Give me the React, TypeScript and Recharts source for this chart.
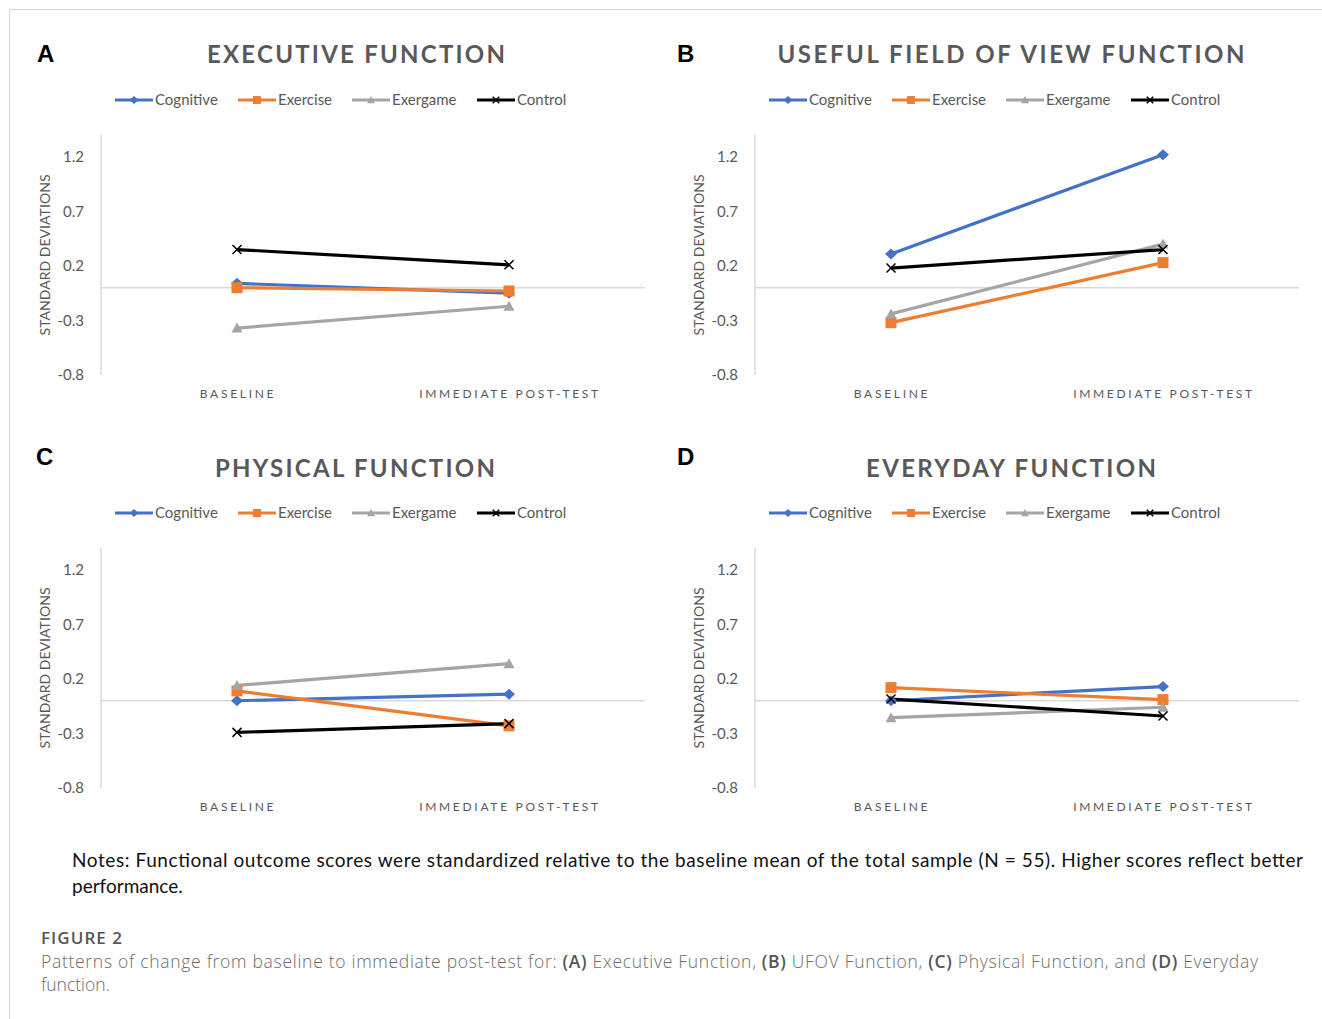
import React from 'react';
import { LineChart, Line, XAxis, YAxis, ReferenceLine } from 'recharts';

// ---------- data ----------
const categories = ['BASELINE', 'IMMEDIATE POST-TEST'];
const seriesNames = ['Cognitive', 'Exercise', 'Exergame', 'Control'];
const yTicks = [-0.8, -0.3, 0.2, 0.7, 1.2];
const yDomain: [number, number] = [-0.8, 1.4];

const execCognitive = [0.04, -0.05];
const execExercise = [0.0, -0.03];
const execExergame = [-0.37, -0.17];
const execControl = [0.35, 0.21];

const ufovCognitive = [0.31, 1.22];
const ufovExercise = [-0.32, 0.23];
const ufovExergame = [-0.24, 0.4];
const ufovControl = [0.18, 0.35];

const physCognitive = [0.0, 0.06];
const physExercise = [0.09, -0.23];
const physExergame = [0.14, 0.34];
const physControl = [-0.29, -0.21];

const everyCognitive = [0.0, 0.13];
const everyExercise = [0.12, 0.01];
const everyExergame = [-0.155, -0.06];
const everyControl = [0.015, -0.14];

const panelLetters = ['A', 'B', 'C', 'D'];
const panelTitles = [
  'EXECUTIVE FUNCTION',
  'USEFUL FIELD OF VIEW FUNCTION',
  'PHYSICAL FUNCTION',
  'EVERYDAY FUNCTION',
];

function buildRows(c: number[], e: number[], g: number[], k: number[]) {
  return categories.map((cat, i) => ({
    cat,
    Cognitive: c[i],
    Exercise: e[i],
    Exergame: g[i],
    Control: k[i],
  }));
}

const panelRows = [
  buildRows(execCognitive, execExercise, execExergame, execControl),
  buildRows(ufovCognitive, ufovExercise, ufovExergame, ufovControl),
  buildRows(physCognitive, physExercise, physExergame, physControl),
  buildRows(everyCognitive, everyExercise, everyExergame, everyControl),
];

// ---------- styles ----------
const COLORS: Record<string, string> = {
  Cognitive: '#4472C4',
  Exercise: '#ED7D31',
  Exergame: '#A5A5A5',
  Control: '#000000',
};
const TEXT_GRAY = '#595959';
const AXIS_GRAY = '#d9d9d9';
const CHART_FONT = 'Lato, "Open Sans", sans-serif';

const panelLayout = [
  { left: 0, top: 0, letterX: 37, letterY: 62, titleCx: 356, titleW: 298, titleY: 63 },
  { left: 654, top: 0, letterX: 677, letterY: 62, titleCx: 1011, titleW: 467, titleY: 63 },
  { left: 0, top: 413, letterX: 36, letterY: 465, titleCx: 355, titleW: 280, titleY: 477 },
  { left: 654, top: 413, letterX: 677, letterY: 465, titleCx: 1011, titleW: 290, titleY: 477 },
];
const legendOffsets = [115, 238, 352, 477];

function marker(name: string, cx: number, cy: number, s: number, key?: string) {
  if (name === 'Cognitive') {
    return (
      <path
        key={key}
        d={`M${cx},${cy - 5.5 * s} L${cx + 6 * s},${cy} L${cx},${cy + 5.5 * s} L${cx - 6 * s},${cy} Z`}
        fill={COLORS.Cognitive}
      />
    );
  }
  if (name === 'Exercise') {
    return (
      <rect key={key} x={cx - 5.5 * s} y={cy - 5.5 * s} width={11 * s} height={11 * s} fill={COLORS.Exercise} />
    );
  }
  if (name === 'Exergame') {
    return (
      <path
        key={key}
        d={`M${cx},${cy - 5.5 * s} L${cx + 5.5 * s},${cy + 4.5 * s} L${cx - 5.5 * s},${cy + 4.5 * s} Z`}
        fill={COLORS.Exergame}
      />
    );
  }
  const r = 4.5 * s;
  return (
    <path
      key={key}
      d={`M${cx - r},${cy - r} L${cx + r},${cy + r} M${cx + r},${cy - r} L${cx - r},${cy + r}`}
      stroke="#000"
      strokeWidth={1.5}
      fill="none"
    />
  );
}

const renderXTick = (props: any) => {
  const { x, y, payload } = props;
  return (
    <text
      x={x + 1}
      y={y + 15}
      textAnchor="middle"
      fontFamily={CHART_FONT}
      fontSize={12}
      letterSpacing={2.7}
      fill={TEXT_GRAY}
    >
      {payload.value}
    </text>
  );
};

function Panel({ idx }: { idx: number }) {
  const lay = panelLayout[idx];
  return (
    <div style={{ position: 'absolute', left: lay.left, top: lay.top, width: 660, height: 420 }}>
      <LineChart
        width={660}
        height={420}
        data={panelRows[idx]}
        margin={{ top: 135, right: 15, bottom: 15, left: 41 }}
      >
        <XAxis
          dataKey="cat"
          scale="band"
          axisLine={false}
          tickLine={false}
          height={30}
          interval={0}
          tick={renderXTick}
        />
        <YAxis
          type="number"
          domain={yDomain}
          ticks={yTicks}
          width={60}
          allowDataOverflow
          axisLine={{ stroke: AXIS_GRAY, strokeWidth: 1.5 }}
          tickLine={false}
          tickMargin={11}
          tick={{ fontSize: 15, fill: TEXT_GRAY, fontFamily: CHART_FONT }}
          tickFormatter={(v: number) => v.toFixed(1)}
        />
        <ReferenceLine y={0} stroke={AXIS_GRAY} strokeWidth={1.5} />
        {seriesNames.map((n) => (
          <Line
            key={n}
            dataKey={n}
            type="linear"
            stroke={COLORS[n]}
            strokeWidth={3.2}
            isAnimationActive={false}
            activeDot={false}
            dot={(p: any) => marker(n, p.cx, p.cy, 1, `${n}-${p.index}`)}
          />
        ))}
      </LineChart>
    </div>
  );
}

function PanelText({ idx }: { idx: number }) {
  const lay = panelLayout[idx];
  const legendY = lay.top + 100;
  const yLabelX = lay.left + 50;
  const yLabelY = lay.top + 255;
  return (
    <g>
      <text
        x={lay.letterX}
        y={lay.letterY}
        fontFamily='"Liberation Sans", Arial, sans-serif'
        fontWeight={700}
        fontSize={24}
        fill="#000"
      >
        {panelLetters[idx]}
      </text>
      <text
        x={lay.titleCx - lay.titleW / 2}
        y={lay.titleY}
        fontFamily={CHART_FONT}
        fontWeight={700}
        fontSize={24}
        fill={TEXT_GRAY}
        textLength={lay.titleW}
        lengthAdjust="spacing"
      >
        {panelTitles[idx]}
      </text>
      {seriesNames.map((n, i) => {
        const x0 = lay.left + legendOffsets[i];
        return (
          <g key={n}>
            <line x1={x0} x2={x0 + 38} y1={legendY} y2={legendY} stroke={COLORS[n]} strokeWidth={3} />
            {marker(n, x0 + 19, legendY, 0.72)}
            <text x={x0 + 40} y={legendY + 4.5} fontFamily={CHART_FONT} fontSize={15} fill={TEXT_GRAY}>
              {n}
            </text>
          </g>
        );
      })}
      <text
        x={yLabelX}
        y={yLabelY}
        transform={`rotate(-90 ${yLabelX} ${yLabelY})`}
        textAnchor="middle"
        fontFamily={CHART_FONT}
        fontSize={14}
        fill={TEXT_GRAY}
        textLength={161}
        lengthAdjust="spacing"
      >
        STANDARD DEVIATIONS
      </text>
    </g>
  );
}

export default function App() {
  const capGray = '#6b6b6b';
  const capBold = '#555555';
  const capFont = '"Open Sans", "Noto Sans", sans-serif';
  return (
    <div
      style={{
        position: 'absolute',
        left: 0,
        top: 0,
        width: 1322,
        height: 1019,
        background: '#fff',
        overflow: 'hidden',
      }}
    >
      <div
        style={{
          position: 'absolute',
          left: 9,
          top: 9,
          width: 1313,
          height: 1010,
          boxSizing: 'border-box',
          borderTop: '1.5px solid #d6d6d6',
          borderLeft: '1.5px solid #d6d6d6',
        }}
      />
      {[0, 1, 2, 3].map((i) => (
        <Panel key={i} idx={i} />
      ))}
      <svg
        width={1322}
        height={1019}
        style={{ position: 'absolute', left: 0, top: 0, pointerEvents: 'none' }}
      >
        {[0, 1, 2, 3].map((i) => (
          <PanelText key={i} idx={i} />
        ))}
        <text x={72} y={867} fontFamily={CHART_FONT} fontSize={19} fill="#111" textLength={1231} lengthAdjust="spacing">
          Notes: Functional outcome scores were standardized relative to the baseline mean of the total sample (N = 55). Higher scores reflect better
        </text>
        <text x={72} y={893} fontFamily={CHART_FONT} fontSize={19} fill="#111">
          performance.
        </text>
        <text x={41} y={944} fontFamily={capFont} fontWeight={600} fontSize={17} fill={capBold} textLength={81} lengthAdjust="spacing">
          FIGURE 2
        </text>
        <text x={41} y={968} fontFamily={capFont} fontWeight={300} fontSize={17.5} fill={capGray} textLength={1217} lengthAdjust="spacing">
          {'Patterns of change from baseline to immediate post-test for: '}
          <tspan fontWeight={600} fill={capBold}>(A)</tspan>
          {' Executive Function, '}
          <tspan fontWeight={600} fill={capBold}>(B)</tspan>
          {' UFOV Function, '}
          <tspan fontWeight={600} fill={capBold}>(C)</tspan>
          {' Physical Function, and '}
          <tspan fontWeight={600} fill={capBold}>(D)</tspan>
          {' Everyday'}
        </text>
        <text x={41} y={991} fontFamily={capFont} fontWeight={300} fontSize={17.5} fill={capGray}>
          function.
        </text>
      </svg>
    </div>
  );
}
